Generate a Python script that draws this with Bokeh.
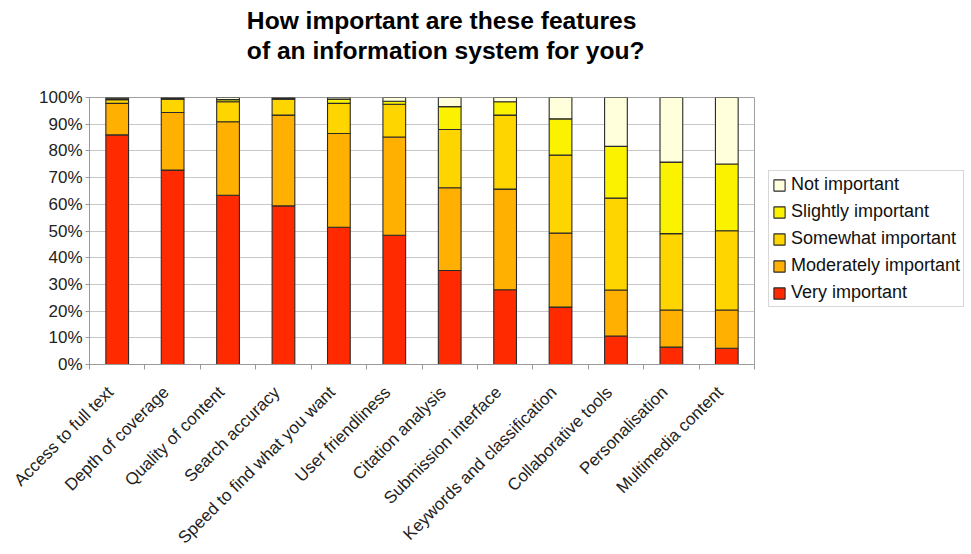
from bokeh.plotting import figure
from bokeh.models import (ColumnDataSource, Range1d, FixedTicker, NumeralTickFormatter,
                          Legend, LegendItem, Title)
from bokeh.embed import file_html
from bokeh.resources import INLINE
import math

categories = ["Access to full text", "Depth of coverage", "Quality of content",
              "Search accuracy", "Speed to find what you want", "User friendliness",
              "Citation analysis", "Submission interface", "Keywords and classification",
              "Collaborative tools", "Personalisation", "Multimedia content"]

very = [86.0, 72.8, 63.4, 59.4, 51.4, 48.4, 35.2, 28.0, 21.5, 10.7, 6.5, 6.1]
moderately = [11.8, 21.6, 27.5, 34.0, 35.1, 36.8, 31.0, 37.7, 27.7, 17.2, 13.9, 14.3]
somewhat = [1.4, 5.0, 7.5, 6.0, 11.3, 12.3, 21.8, 27.7, 29.2, 34.4, 28.6, 29.7]
slightly = [0.5, 0.4, 0.8, 0.4, 1.6, 1.1, 8.6, 5.0, 13.6, 19.4, 26.8, 25.0]
not_imp = [0.3, 0.2, 0.8, 0.2, 0.6, 1.4, 3.4, 1.6, 8.0, 18.3, 24.2, 24.9]

series_names = ["Very important", "Moderately important", "Somewhat important",
                "Slightly important", "Not important"]
colors = ["#ff2a00", "#ffb000", "#ffd500", "#fbf200", "#ffffdc"]
y_ticks = [0, 0.1, 0.2, 0.3, 0.4, 0.5, 0.6, 0.7, 0.8, 0.9, 1.0]

xs = [i + 0.5 for i in range(len(categories))]
label_xs = [x - 0.12 for x in xs]
keys = ["very", "moderately", "somewhat", "slightly", "not_imp"]
src = ColumnDataSource(dict(
    x=xs,
    very=[v / 100 for v in very],
    moderately=[v / 100 for v in moderately],
    somewhat=[v / 100 for v in somewhat],
    slightly=[v / 100 for v in slightly],
    not_imp=[v / 100 for v in not_imp],
))

FONT = "Liberation Sans"

p = figure(frame_width=665, frame_height=267, output_backend="svg", toolbar_location=None,
           x_range=Range1d(0, len(categories)), y_range=Range1d(0, 1),
           min_border_left=89, min_border_right=0, min_border_top=10,
           min_border_bottom=10, title=None)

spacer = Title(text=" ", text_font_size="14px", align="center")
p.add_layout(spacer, "above")
title = Title(text="How important are these features\nof an information system for you?",
              text_font=FONT, text_font_size="24.6px", text_font_style="bold",
              text_color="#000000", align="right", offset=110, text_line_height=1.12)
p.add_layout(title, "above")

renderers = p.vbar_stack(keys, x="x", width=0.41, source=src, color=colors,
                         line_color="#2a2a2a", line_width=1.1)

items = [LegendItem(label=series_names[i], renderers=[renderers[i]]) for i in range(4, -1, -1)]
legend = Legend(items=items, location=(14, 57), label_text_font=FONT,
                label_text_font_size="18px", label_text_color="#111111",
                glyph_width=14, glyph_height=14, label_standoff=5, label_height=20,
                spacing=6, padding=3, margin=0, border_line_color="#b0b0b0",
                border_line_width=1, background_fill_color="white")
p.add_layout(legend, "right")

p.xaxis.ticker = FixedTicker(ticks=label_xs, minor_ticks=list(range(len(categories) + 1)))
p.xaxis.major_label_overrides = {x: c for x, c in zip(label_xs, categories)}
p.xaxis.major_label_orientation = math.pi / 4
p.xaxis.major_tick_out = 0
p.xaxis.major_tick_in = 0
p.xaxis.minor_tick_out = 5
p.xaxis.minor_tick_in = 0
p.xaxis.minor_tick_line_color = "#999999"
p.xaxis.axis_line_color = "#999999"
p.xaxis.major_label_text_font = FONT
p.xaxis.major_label_text_font_size = "17px"
p.xaxis.major_label_text_color = "#222222"
p.xaxis.major_label_standoff = 20

p.yaxis.ticker = FixedTicker(ticks=y_ticks)
p.yaxis.formatter = NumeralTickFormatter(format="0%")
p.yaxis.major_tick_out = 4
p.yaxis.major_tick_in = 0
p.yaxis.minor_tick_line_color = None
p.yaxis.axis_line_color = "#999999"
p.yaxis.major_tick_line_color = "#999999"
p.yaxis.major_label_text_font = FONT
p.yaxis.major_label_text_font_size = "17px"
p.yaxis.major_label_text_color = "#222222"
p.yaxis.major_label_standoff = 3

p.xgrid.grid_line_color = None
p.ygrid.ticker = FixedTicker(ticks=y_ticks)
p.ygrid.grid_line_color = "#c8c8c8"
p.ygrid.grid_line_width = 1
p.outline_line_color = "#a0a0a0"
p.background_fill_color = "white"
p.border_fill_color = "white"

open("out.html", "w").write(file_html(p, INLINE))
